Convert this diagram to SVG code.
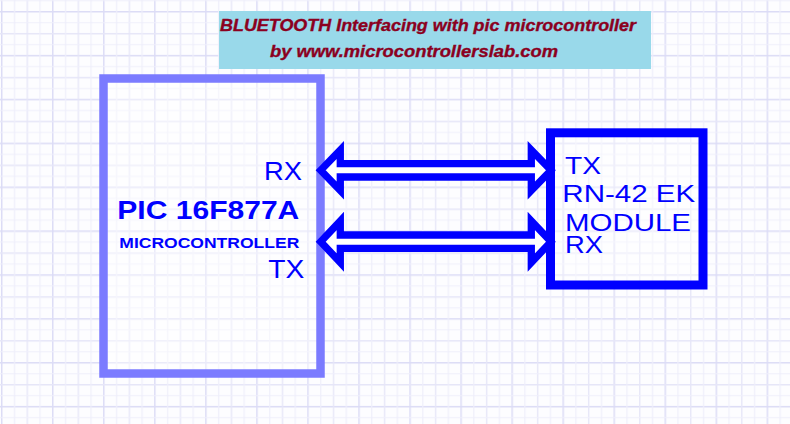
<svg xmlns="http://www.w3.org/2000/svg" width="790" height="424" viewBox="0 0 790 424">
<style>
.lbl{font-family:"Liberation Sans",Arial,sans-serif;fill:#0000ff}
.ttl{font-family:"Liberation Sans",Arial,sans-serif;font-weight:bold;font-style:italic;fill:#8b0020;stroke:#8b0020;stroke-width:0.35;font-size:17px}
.arrow{fill:#ffffff;stroke:#0000ff;stroke-width:7.3;stroke-linejoin:miter;stroke-miterlimit:10}
</style>
<defs>
<pattern id="grid" patternUnits="userSpaceOnUse" x="1" y="11" width="51.04" height="43.88">
<g fill="none">
<path d="M0.75,0V43.88M0,0.75H51.04" stroke="#dcdcf6" stroke-width="1.5"/>
<path d="M26.27,0V43.88M0,22.69H51.04" stroke="#e6e6f8" stroke-width="1.3"/>
<path d="M13.51,0V43.88M39.03,0V43.88M0,11.72H51.04M0,33.66H51.04" stroke="#efeffb" stroke-width="1.2"/>
</g>
</pattern>
</defs>
<rect width="790" height="424" fill="#fdfdff"/>
<rect width="790" height="424" fill="url(#grid)"/>
<g id="title">
<rect x="219" y="11" width="432" height="58" fill="#99d9ea"/>
<text class="ttl" x="220" y="30.5" textLength="416" lengthAdjust="spacingAndGlyphs">BLUETOOTH Interfacing with pic microcontroller</text>
<text class="ttl" x="270" y="56.5" textLength="288" lengthAdjust="spacingAndGlyphs">by www.microcontrollerslab.com</text>
</g>
<g id="pic">
<rect x="103.5" y="78.5" width="217" height="295" fill="#ffffff" fill-opacity="0.4" stroke="#7b7bff" stroke-width="8.5"/>
<text class="lbl" x="264" y="180" font-size="25" textLength="38" lengthAdjust="spacingAndGlyphs">RX</text>
<text class="lbl" x="268.3" y="278" font-size="25" textLength="36" lengthAdjust="spacingAndGlyphs">TX</text>
<text class="lbl" x="117.3" y="219.3" font-size="25" font-weight="bold" textLength="182" lengthAdjust="spacingAndGlyphs">PIC 16F877A</text>
<text class="lbl" x="119.3" y="248.3" font-size="15" font-weight="bold" textLength="180" lengthAdjust="spacingAndGlyphs">MICROCONTROLLER</text>
</g>
<g id="connectors">
<path class="arrow" d="M320.7,170.3 L340.3,150 L340.3,163.6 L531.3,163.6 L531.3,150 L551,170.3 L531.3,190.5 L531.3,177 L340.3,177 L340.3,190.5 Z"/>
<path class="arrow" d="M320.7,241.7 L340.3,221 L340.3,235 L531.3,235 L531.3,221 L551,241.7 L531.3,262.5 L531.3,248.4 L340.3,248.4 L340.3,262.5 Z"/>
</g>
<g id="rn42">
<rect x="550.5" y="132.8" width="152.5" height="152.2" fill="#ffffff" fill-opacity="0.4" stroke="#0000ff" stroke-width="9"/>
<text class="lbl" x="565" y="174" font-size="24" textLength="36" lengthAdjust="spacingAndGlyphs">TX</text>
<text class="lbl" x="562.3" y="201.7" font-size="24" textLength="133" lengthAdjust="spacingAndGlyphs">RN-42 EK</text>
<text class="lbl" x="565" y="230.5" font-size="23" textLength="126" lengthAdjust="spacingAndGlyphs">MODULE</text>
<text class="lbl" x="565" y="253" font-size="24" textLength="38" lengthAdjust="spacingAndGlyphs">RX</text>
</g>
</svg>
